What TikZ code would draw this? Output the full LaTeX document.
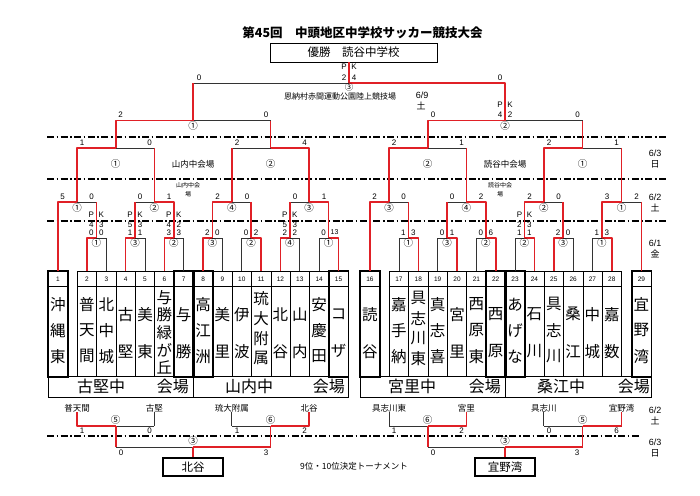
\documentclass[tikz,border=0pt]{standalone}
\usepackage{fontspec}
\setmainfont{Liberation Sans}
\newfontfamily\jp{Noto Sans CJK JP}
\usetikzlibrary{calc}
\definecolor{myred}{RGB}{224,32,38}
\newcommand\myS[3]{\node[scr] at (#1,#2) {#3};}
\newcommand\myC[3]{\node[cir] at (#1,#2) {#3};}
\newcommand\myH[3]{\draw[bk] (#2 |- #1) -- (#3 |- #1);}
\newcommand\myW[2]{\draw[rl] (#1) -- (#1 |- #2) -- (#2);}
\newcommand\myR[2]{\draw[rl] (#1) -- (#1 |- #2);}
\newcommand\myB[2]{\draw[bk] (#1) -- (#1 |- #2);}
\newcommand\ch[3]{\node[nmf] at ($(b#1.center)+(0,#2-323.5)$) {#3};}
\newcommand\nmII[3]{\ch{#1}{314}{#2}\ch{#1}{351}{#3}}
\newcommand\nmIII[4]{\ch{#1}{304}{#2}\ch{#1}{330}{#3}\ch{#1}{356}{#4}}
\newcommand\nmIV[5]{\ch{#1}{298}{#2}\ch{#1}{318}{#3}\ch{#1}{338}{#4}\ch{#1}{358}{#5}}
\newcommand\nmV[6]{\ch{#1}{297}{#2}\ch{#1}{314.5}{#3}\ch{#1}{332}{#4}\ch{#1}{349.5}{#5}\ch{#1}{367}{#6}}
\newcommand\rtwo[4]{\myS{#1-5}{232.5}{#2}\myS{#1+5}{232.5}{#3}\myC{#1}{243.3}{#4}}
\newcommand\rtwopk[6]{\myS{#1-5}{215}{P}\myS{#1+5}{215}{K}\myS{#1-5}{224.3}{#2}\myS{#1+5}{224.3}{#3}\myS{#1-5}{232.3}{#4}\myS{#1+5}{232.3}{#5}\myC{#1}{243.3}{#6}}
\begin{document}
\begin{tikzpicture}[x=1pt,y=-1pt,
 bk/.style={draw=black!80,line width=0.7pt},
 rl/.style={draw=myred,line width=1.6pt,line join=round},
 dd/.style={draw=black,line width=1.3pt,dash pattern=on 7pt off 2.5pt on 1.6pt off 2.5pt},
 scr/.style={inner sep=0pt,font=\fontsize{8}{8}\selectfont},
 cir/.style={inner sep=0pt,font=\jp\fontsize{9.5}{9.5}\selectfont},
 tb/.style={draw,line width=0.6pt,minimum width=19.35pt,minimum height=105pt,inner sep=0pt,anchor=north west},
 numf/.style={inner sep=0pt,font=\fontsize{6.5}{6.5}\selectfont},
 nmf/.style={inner sep=0pt,font=\jp\fontsize{15.5}{15.5}\selectfont},
 vn/.style={inner sep=0pt,font=\jp\fontsize{16}{16}\selectfont},
 sm/.style={inner sep=0pt,font=\jp\fontsize{8.5}{8.5}\selectfont},
 tinyj/.style={inner sep=0pt,font=\jp\fontsize{6}{6}\selectfont},
 dt/.style={inner sep=0pt,font=\fontsize{9}{9}\selectfont},
 dtj/.style={inner sep=0pt,font=\jp\fontsize{9}{9}\selectfont},
 wb/.style={draw,line width=1.5pt,minimum width=60pt,minimum height=18pt,inner sep=0pt,font=\jp\fontsize{11.5}{11.5}\selectfont},
]
\fill[white] (0,0) rectangle (700,495);
\useasboundingbox (0,0) rectangle (700,495);

% title and winner
\node[inner sep=0pt,font=\jp\bfseries\fontsize{12.5}{12.5}\selectfont] (title) at (362.5,33) {第45回　中頭地区中学校サッカー競技大会};
\node[draw,line width=0.8pt,minimum width=167pt,minimum height=19pt,inner sep=0pt,font=\jp\fontsize{11.5}{11.5}\selectfont] (wbox) at (353.5,52.5) {優勝　読谷中学校};

% dash-dot day separators
\draw[dd] (47,137) -- (668,137);
\draw[dd] (47,179) -- (668,179);
\draw[dd] (47,221) -- (668,221);
\draw[dd] (47,436) -- (640,436);

% team boxes
\foreach \k/\x in {1/48,2/77,3/96.35,4/115.7,5/135.05,6/154.4,7/173.75,8/193.1,9/212.45,10/231.8,11/251.15,12/270.5,13/289.85,14/309.2,15/328.55,16/360,17/389,18/408.35,19/427.7,20/447.05,21/466.4,22/485.75,23/505.1,24/524.45,25/543.8,26/563.15,27/582.5,28/601.85,29/631.5}{
  \node[tb] (b\k) at (\x,271) {};
  \draw[line width=0.5pt] ([yshift=-15pt]b\k.north west) -- ([yshift=-15pt]b\k.north east);
  \node[numf] at ([yshift=-8pt]b\k.north) {\k};
}
\foreach \k in {1,7,8,15,16,22,23,29}{
  \draw[line width=1.8pt] (b\k.north west) rectangle (b\k.south east);
}

% team names
\nmIII{1}{沖}{縄}{東}
\nmIII{2}{普}{天}{間}
\nmIII{3}{北}{中}{城}
\nmII{4}{古}{堅}
\nmII{5}{美}{東}
\nmV{6}{与}{勝}{緑}{が}{丘}
\nmII{7}{与}{勝}
\nmIII{8}{高}{江}{洲}
\nmII{9}{美}{里}
\nmII{10}{伊}{波}
\nmIV{11}{琉}{大}{附}{属}
\nmII{12}{北}{谷}
\nmII{13}{山}{内}
\nmIII{14}{安}{慶}{田}
\nmII{15}{コ}{ザ}
\nmII{16}{読}{谷}
\nmIII{17}{嘉}{手}{納}
\nmIV{18}{具}{志}{川}{東}
\nmIII{19}{真}{志}{喜}
\nmII{20}{宮}{里}
\nmIII{21}{西}{原}{東}
\nmII{22}{西}{原}
\nmIII{23}{あ}{げ}{な}
\nmII{24}{石}{川}
\nmIII{25}{具}{志}{川}
\nmII{26}{桑}{江}
\nmII{27}{中}{城}
\nmII{28}{嘉}{数}
\nmIII{29}{宜}{野}{湾}

% venue row
\node[draw,line width=0.6pt,minimum width=145.1pt,minimum height=21pt,inner sep=0pt,anchor=north west] (v1) at (48,376) {};
\node[draw,line width=0.6pt,minimum width=154.8pt,minimum height=21pt,inner sep=0pt,anchor=north west] (v2) at (193.1,376) {};
\node[draw,line width=0.6pt,minimum width=145.1pt,minimum height=21pt,inner sep=0pt,anchor=north west] (v3) at (360,376) {};
\node[draw,line width=0.6pt,minimum width=145.75pt,minimum height=21pt,inner sep=0pt,anchor=north west] (v4) at (505.1,376) {};
\node[vn,anchor=west] at (77,386.5) {古堅中};
\node[vn,anchor=east] at (189,386.5) {会場};
\node[vn,anchor=west] at (225,386.5) {山内中};
\node[vn,anchor=east] at (345,386.5) {会場};
\node[vn,anchor=west] at (388,386.5) {宮里中};
\node[vn,anchor=east] at (501,386.5) {会場};
\node[vn,anchor=west] at (537,386.5) {桑江中};
\node[vn,anchor=east] at (650,386.5) {会場};

% match points
\foreach \n/\x in {ma/96.35,mb/135.05,mc/173.75,md/212.45,me/251.15,mf/289.85,mg/328.55,mh/408.35,mi/447.05,mj/485.75,mk/524.45,ml/563.15,mm/601.85}{\coordinate (\n) at (\x,238);}
\foreach \n/\x in {ra/77.01,rb/154.4,rc/231.8,rd/309.2,re/389.01,rf/466.4,rg/543.8,rh/621.51}{\coordinate (\n) at (\x,202);}
\foreach \n/\x in {qa/115.7,qb/270.5,qc/427.7,qd/582.66}{\coordinate (\n) at (\x,148);}
\coordinate (sa) at (193.1,120.5);
\coordinate (sb) at (505.18,120.5);
\coordinate (fi) at (349.14,83);

% horizontal lines (black)
\myH{ma}{b2.north}{b3.north}\myH{mb}{b4.north}{b5.north}\myH{mc}{b6.north}{b7.north}
\myH{md}{b8.north}{b9.north}\myH{me}{b10.north}{b11.north}\myH{mf}{b12.north}{b13.north}
\myH{mg}{b14.north}{b15.north}\myH{mh}{b17.north}{b18.north}\myH{mi}{b19.north}{b20.north}
\myH{mj}{b21.north}{b22.north}\myH{mk}{b23.north}{b24.north}\myH{ml}{b25.north}{b26.north}
\myH{mm}{b27.north}{b28.north}
\myH{ra}{b1.north}{ma}\myH{rb}{mb}{mc}\myH{rc}{md}{me}\myH{rd}{mf}{mg}
\myH{re}{b16.north}{mh}\myH{rf}{mi}{mj}\myH{rg}{mk}{ml}\myH{rh}{mm}{b29.north}
\myH{qa}{ra}{rb}\myH{qb}{rc}{rd}\myH{qc}{re}{rf}\myH{qd}{rg}{rh}
\myH{sa}{qa}{qb}\myH{sb}{qc}{qd}
\myH{fi}{sa}{sb}

% losing teams (black)
\myB{b3.north}{ma}\myB{b5.north}{mb}\myB{b7.north}{mc}\myB{b9.north}{md}
\myB{b10.north}{me}\myB{b13.north}{mf}\myB{b14.north}{mg}\myB{b17.north}{mh}
\myB{b19.north}{mi}\myB{b21.north}{mj}\myB{b23.north}{mk}\myB{b26.north}{ml}
\myB{b27.north}{mm}

% winning paths (red)
\myW{b2.north}{ma}\myW{b4.north}{mb}\myW{b6.north}{mc}\myW{b8.north}{md}
\myW{b11.north}{me}\myW{b12.north}{mf}\myW{b15.north}{mg}\myW{b18.north}{mh}
\myW{b20.north}{mi}\myW{b22.north}{mj}\myW{b24.north}{mk}\myW{b25.north}{ml}
\myW{b28.north}{mm}
\myW{b1.north}{ra}\myR{ma}{ra}
\myR{mb}{rb}\myW{mc}{rb}
\myW{md}{rc}\myR{me}{rc}
\myR{mf}{rd}\myW{mg}{rd}
\myW{b16.north}{re}\myR{mh}{re}
\myR{mi}{rf}\myW{mj}{rf}
\myW{mk}{rg}\myR{ml}{rg}
\myW{mm}{rh}\myR{b29.north}{rh}
\myW{ra}{qa}\myR{rb}{qa}
\myR{rc}{qb}\myW{rd}{qb}
\myW{re}{qc}\myR{rf}{qc}
\myW{rg}{qd}\myR{rh}{qd}
\myW{qa}{sa}\myR{qb}{sa}
\myW{qc}{sb}\myR{qd}{sb}
\myR{sa}{fi}\myW{sb}{fi}
\draw[rl] (fi) -- (fi |- wbox.south);

% scores: final
\myS{199}{77.5}{0}\myS{500}{77.5}{0}
\myS{344}{67}{P}\myS{354}{67}{K}\myS{344}{77.5}{2}\myS{354}{77.5}{4}
\node[inner sep=0pt,font=\jp\fontsize{8.5}{8.5}\selectfont] at (349.14,87.6) {③};
% semifinals
\myS{120.5}{115}{2}\myS{266}{115}{0}\myC{193.1}{126}{①}
\myS{433}{115}{0}\myS{577.5}{115}{0}
\myS{500}{104.5}{P}\myS{510}{104.5}{K}\myS{500}{115}{4}\myS{510}{115}{2}
\myC{505.18}{126}{②}
% quarterfinals
\myS{82}{142.5}{1}\myS{149.5}{142.5}{0}\myC{115.7}{164}{①}
\myS{237}{142.5}{2}\myS{304.5}{142.5}{4}\myC{270.5}{164}{②}
\myS{394}{142.5}{2}\myS{461.5}{142.5}{1}\myC{427.7}{164}{②}
\myS{549}{142.5}{2}\myS{616.5}{142.5}{1}\myC{582.66}{164}{①}
% third round
\myS{62.5}{196.5}{5}\myS{91.5}{196.5}{0}\myC{77.01}{208}{①}
\myS{140}{196.5}{0}\myS{169}{196.5}{1}\myC{154.4}{208}{②}
\myS{217.5}{196.5}{2}\myS{247}{196.5}{0}\myC{231.8}{208}{④}
\myS{295}{196.5}{0}\myS{324}{196.5}{1}\myC{309.2}{208}{③}
\myS{374.5}{196.5}{2}\myS{403.5}{196.5}{0}\myC{389.01}{208}{③}
\myS{452}{196.5}{0}\myS{481}{196.5}{2}\myC{466.4}{208}{④}
\myS{529.5}{196.5}{2}\myS{558.5}{196.5}{0}\myC{543.8}{208}{②}
\myS{607}{196.5}{3}\myS{636.5}{196.5}{2}\myC{621.51}{208}{①}
% second round
\rtwopk{96.35}{4}{3}{0}{0}{①}
\rtwopk{135.05}{5}{3}{1}{1}{③}
\rtwopk{173.75}{4}{2}{3}{3}{②}
\rtwo{212.45}{2}{0}{③}
\rtwo{251.15}{0}{2}{②}
\rtwopk{289.85}{5}{3}{2}{2}{④}
\myS{323.5}{232.5}{0}\node[inner sep=0pt,font=\fontsize{7}{7}\selectfont] at (334.5,232.5) {13};\myC{328.55}{243.3}{①}
\rtwo{408.35}{1}{3}{①}
\rtwo{447.05}{0}{1}{③}
\rtwo{485.75}{0}{6}{②}
\rtwopk{524.45}{2}{3}{1}{1}{②}
\rtwo{563.15}{2}{0}{③}
\rtwo{601.85}{1}{3}{①}

% venue notes
\node[inner sep=0pt,font=\jp\fontsize{8}{8}\selectfont] (fvenue) at (340,96.8) {恩納村赤間運動公園陸上競技場};
\node[dt] at (422,95.5) {6/9};
\node[dtj] at (421,106) {土};
\node[sm] (yv) at (193.1,164) {山内中会場};
\node[sm] (kv) at (505.18,164) {読谷中会場};
\node[tinyj] at (188,185) {山内中会};
\node[tinyj] at (188,194.5) {場};
\node[tinyj] at (500,185) {読谷中会};
\node[tinyj] at (500,194.5) {場};

% dates
\node[dt] at (655,153) {6/3};\node[dtj] at (655,164) {日};
\node[dt] at (655,197) {6/2};\node[dtj] at (655,208) {土};
\node[dt] at (655,243) {6/1};\node[dtj] at (655,254) {金};
\node[dt] at (655,410) {6/2};\node[dtj] at (655,421) {土};
\node[dt] at (655,442) {6/3};\node[dtj] at (655,453) {日};

% consolation bracket
\node[sm] (p1) at (77.01,408) {普天間};
\node[sm] (p2) at (154.4,408) {古堅};
\node[sm] (p3) at (231.8,408) {琉大附属};
\node[sm] (p4) at (309.2,408) {北谷};
\node[sm] (p5) at (389.01,408) {具志川東};
\node[sm] (p6) at (466.4,408) {宮里};
\node[sm] (p7) at (543.8,408) {具志川};
\node[sm] (p8) at (621.51,408) {宜野湾};
\coordinate (c5l) at (115.7,426);
\coordinate (c6l) at (270.5,426);
\coordinate (c3l) at (193.1,447);
\coordinate (c6r) at (427.7,426);
\coordinate (c5r) at (582.66,426);
\coordinate (c3r) at (505.18,447);
\node[wb] (bx1) at (193.1,467) {北谷};
\node[wb] (bx2) at (505.18,467) {宜野湾};
\myH{c5l}{p1.south}{p2.south}\myH{c6l}{p3.south}{p4.south}\myH{c3l}{c5l}{c6l}
\myH{c6r}{p5.south}{p6.south}\myH{c5r}{p7.south}{p8.south}\myH{c3r}{c6r}{c5r}
\myB{p2.south}{c5l}\myB{p3.south}{c6l}\myB{p5.south}{c6r}\myB{p7.south}{c5r}
\myW{p1.south}{c5l}\myW{p4.south}{c6l}\myR{c5l}{c3l}\myW{c6l}{c3l}
\myW{p6.south}{c6r}\myW{p8.south}{c5r}\myR{c6r}{c3r}\myW{c5r}{c3r}
\draw[rl] (c3l) -- (c3l |- bx1.north);
\draw[rl] (c3r) -- (c3r |- bx2.north);
\myC{115.7}{420}{⑤}\myC{270.5}{420}{⑥}\myC{193.1}{441}{③}
\myC{427.7}{420}{⑥}\myC{582.66}{420}{⑤}\myC{505.18}{441}{③}
\myS{82}{431}{1}\myS{149.5}{431}{0}\myS{237}{431}{1}\myS{304.5}{431}{2}
\myS{121}{452.5}{0}\myS{266}{452.5}{3}
\myS{394}{431}{1}\myS{461.5}{431}{2}\myS{549}{431}{0}\myS{616.5}{431}{6}
\myS{433}{452.5}{0}\myS{577}{452.5}{3}
\node[sm] (ctitle) at (354,466) {9位・10位決定トーナメント};
\end{tikzpicture}
\end{document}
